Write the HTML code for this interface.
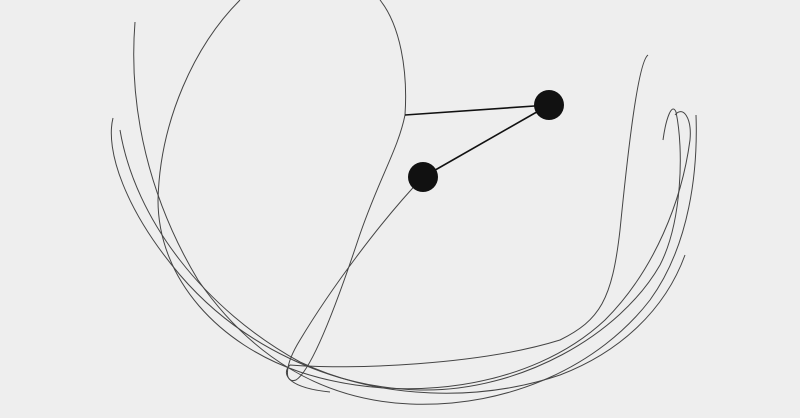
<!DOCTYPE html>
<html><head><meta charset="utf-8"><style>
html,body{margin:0;padding:0;background:#eeeeee;}
svg{display:block;}
</style></head><body>
<svg width="800" height="418" viewBox="0 0 800 418">
<rect x="0" y="0" width="800" height="418" fill="#eeeeee"/>
<g fill="none" stroke="#444" stroke-width="1">
<path d="M405,115 C408,70 400,25 380,0"/>
<path d="M240,0 C195,45 160,120 158,200 C158,280 220,345 300,372 C400,405 530,390 605,320 C655,270 682,200 690,140 C692,118 683,105 675,115"/>
<path d="M135,22 C128,110 150,200 198,280 C250,355 320,400 410,404 C510,408 600,365 650,300 C690,245 698,170 696,115"/>
<path d="M113,118 C105,150 125,210 180,275 C240,345 330,388 420,390 C520,392 620,335 660,265 C682,222 684,150 676,112 C672,102 666,118 663,140"/>
<path d="M120,130 C135,220 205,310 300,362 C380,400 480,402 560,375 C620,352 665,310 685,255"/>
<path d="M648,55 C638,62 628,150 620,230 C612,300 600,320 560,340 C480,365 350,370 290,365 C280,375 290,388 330,392"/>
<path d="M423,177 C380,222 330,290 300,340 C284,366 284,384 296,380 C312,370 338,300 358,240 C378,180 398,150 405,115"/>
</g>
<line x1="405" y1="115" x2="549" y2="105" stroke="#111" stroke-width="1.6"/>
<line x1="549" y1="105" x2="423" y2="177" stroke="#111" stroke-width="1.6"/>
<circle cx="549" cy="105" r="15" fill="#111"/>
<circle cx="423" cy="177" r="15" fill="#111"/>
</svg>
</body></html>
